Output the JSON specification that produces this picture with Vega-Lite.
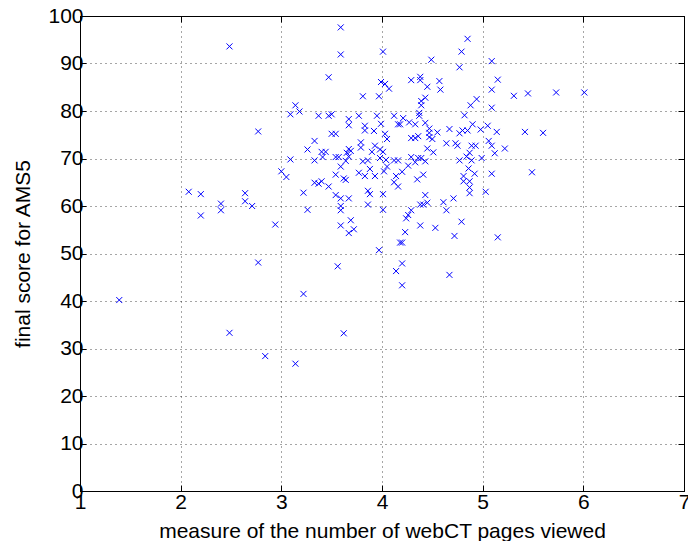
{
  "$schema": "https://vega.github.io/schema/vega-lite/v6.json",
  "width": 604,
  "height": 475,
  "autosize": {"type": "none"},
  "padding": {"left": 80, "top": 16, "right": 4, "bottom": 50},
  "background": "white",
  "config": {
    "view": {"stroke": "#000", "strokeWidth": 1},
    "font": "Liberation Sans",
    "axis": {
      "domainColor": "#000",
      "tickColor": "#000",
      "labelColor": "#000",
      "titleColor": "#000",
      "labelFont": "Liberation Sans",
      "titleFont": "Liberation Sans",
      "labelFontSize": 21,
      "titleFontSize": 21,
      "titleFontWeight": "normal",
      "gridColor": "#000",
      "gridDash": [1, 4],
      "gridOpacity": 0.7,
      "gridWidth": 1
    }
  },
  "data": {"values": [
    {"x":1.39,"y":40.2},{"x":2.485,"y":93.6},{"x":2.485,"y":33.3},{"x":2.08,"y":63.0},{"x":2.2,"y":62.5},
    {"x":2.2,"y":58.0},{"x":2.4,"y":60.5},{"x":2.4,"y":59.1},{"x":2.64,"y":62.7},{"x":2.64,"y":61.0},
    {"x":2.71,"y":60.0},{"x":2.77,"y":75.7},{"x":2.77,"y":48.1},{"x":2.84,"y":28.4},{"x":2.94,"y":56.1},
    {"x":3.0,"y":67.3},{"x":3.05,"y":66.1},{"x":3.09,"y":69.8},{"x":3.09,"y":79.3},{"x":3.14,"y":81.2},
    {"x":3.18,"y":79.9},{"x":3.14,"y":26.8},{"x":3.22,"y":41.5},{"x":3.22,"y":62.8},{"x":3.26,"y":71.9},
    {"x":3.26,"y":59.2},{"x":3.33,"y":73.7},{"x":3.33,"y":69.6},{"x":3.33,"y":64.9},{"x":3.37,"y":79.0},
    {"x":3.37,"y":64.7},{"x":3.4,"y":71.4},{"x":3.4,"y":65.2},{"x":3.44,"y":71.4},{"x":3.41,"y":70.3},
    {"x":3.47,"y":87.1},{"x":3.47,"y":79.0},{"x":3.47,"y":64.1},{"x":3.5,"y":79.3},{"x":3.5,"y":75.2},
    {"x":3.54,"y":75.2},{"x":3.54,"y":70.3},{"x":3.54,"y":66.6},{"x":3.54,"y":62.3},{"x":3.57,"y":70.3},
    {"x":3.56,"y":47.3},{"x":3.59,"y":97.6},{"x":3.59,"y":91.9},{"x":3.59,"y":68.3},{"x":3.59,"y":61.6},
    {"x":3.59,"y":60.0},{"x":3.59,"y":59.1},{"x":3.59,"y":55.9},{"x":3.62,"y":33.2},{"x":3.62,"y":65.8},
    {"x":3.64,"y":65.5},{"x":3.64,"y":69.5},{"x":3.67,"y":78.3},{"x":3.67,"y":77.0},{"x":3.67,"y":72.0},
    {"x":3.67,"y":70.4},{"x":3.67,"y":61.6},{"x":3.67,"y":54.3},{"x":3.69,"y":57.0},{"x":3.69,"y":71.6},
    {"x":3.65,"y":71.2},{"x":3.72,"y":55.1},{"x":3.77,"y":79.0},{"x":3.77,"y":67.0},{"x":3.79,"y":73.4},
    {"x":3.79,"y":72.3},{"x":3.81,"y":83.1},{"x":3.81,"y":69.4},{"x":3.83,"y":76.9},{"x":3.83,"y":75.9},
    {"x":3.83,"y":66.3},{"x":3.86,"y":63.2},{"x":3.86,"y":60.3},{"x":3.86,"y":69.6},{"x":3.88,"y":67.8},
    {"x":3.88,"y":62.5},{"x":3.9,"y":71.4},{"x":3.92,"y":75.8},{"x":3.93,"y":72.7},{"x":3.93,"y":66.3},
    {"x":3.95,"y":79.0},{"x":3.97,"y":83.1},{"x":3.97,"y":50.7},{"x":3.98,"y":71.9},{"x":3.98,"y":70.1},
    {"x":3.99,"y":86.1},{"x":3.99,"y":77.3},{"x":4.01,"y":92.5},{"x":4.01,"y":71.4},{"x":4.01,"y":62.5},
    {"x":4.01,"y":59.2},{"x":4.02,"y":67.3},{"x":4.03,"y":85.7},{"x":4.03,"y":75.2},{"x":4.04,"y":69.7},
    {"x":4.05,"y":68.3},{"x":4.05,"y":74.1},{"x":4.07,"y":84.7},{"x":4.12,"y":79.0},{"x":4.12,"y":69.6},
    {"x":4.12,"y":65.0},{"x":4.14,"y":66.3},{"x":4.16,"y":69.6},{"x":4.16,"y":64.1},{"x":4.14,"y":46.3},
    {"x":4.16,"y":77.2},{"x":4.18,"y":77.2},{"x":4.18,"y":52.3},{"x":4.2,"y":52.3},{"x":4.2,"y":47.9},
    {"x":4.2,"y":43.3},{"x":4.2,"y":67.2},{"x":4.21,"y":78.5},{"x":4.23,"y":54.5},{"x":4.24,"y":57.4},
    {"x":4.26,"y":58.1},{"x":4.26,"y":68.5},{"x":4.27,"y":77.6},{"x":4.29,"y":86.5},{"x":4.29,"y":74.3},
    {"x":4.29,"y":70.3},{"x":4.29,"y":59.1},{"x":4.33,"y":69.2},{"x":4.33,"y":77.2},{"x":4.33,"y":74.3},
    {"x":4.35,"y":65.6},{"x":4.36,"y":74.7},{"x":4.36,"y":70.1},{"x":4.37,"y":79.0},{"x":4.37,"y":79.6},
    {"x":4.38,"y":86.5},{"x":4.38,"y":87.2},{"x":4.38,"y":60.3},{"x":4.38,"y":55.9},{"x":4.39,"y":82.1},
    {"x":4.39,"y":81.2},{"x":4.39,"y":70.1},{"x":4.41,"y":66.6},{"x":4.41,"y":60.3},{"x":4.43,"y":82.8},
    {"x":4.43,"y":77.5},{"x":4.43,"y":69.4},{"x":4.43,"y":62.3},{"x":4.45,"y":85.1},{"x":4.45,"y":72.1},
    {"x":4.45,"y":60.7},{"x":4.47,"y":76.3},{"x":4.47,"y":75.4},{"x":4.47,"y":74.5},{"x":4.49,"y":90.8},
    {"x":4.5,"y":74.1},{"x":4.51,"y":71.3},{"x":4.53,"y":55.4},{"x":4.55,"y":75.5},{"x":4.57,"y":86.3},
    {"x":4.58,"y":84.5},{"x":4.61,"y":60.8},{"x":4.64,"y":73.2},{"x":4.64,"y":59.1},{"x":4.67,"y":76.2},
    {"x":4.67,"y":45.5},{"x":4.71,"y":61.6},{"x":4.72,"y":53.7},{"x":4.73,"y":73.2},{"x":4.75,"y":72.7},
    {"x":4.77,"y":89.2},{"x":4.77,"y":75.3},{"x":4.77,"y":69.6},{"x":4.79,"y":92.5},{"x":4.79,"y":56.7},
    {"x":4.8,"y":75.9},{"x":4.81,"y":66.3},{"x":4.81,"y":65.2},{"x":4.82,"y":79.1},{"x":4.84,"y":70.4},
    {"x":4.85,"y":95.2},{"x":4.85,"y":75.9},{"x":4.86,"y":67.9},{"x":4.87,"y":71.2},{"x":4.87,"y":65.2},
    {"x":4.87,"y":63.9},{"x":4.87,"y":62.7},{"x":4.88,"y":81.2},{"x":4.89,"y":69.6},{"x":4.89,"y":72.7},
    {"x":4.9,"y":77.2},{"x":4.93,"y":72.7},{"x":4.92,"y":66.8},{"x":4.94,"y":82.5},{"x":4.98,"y":76.1},
    {"x":4.99,"y":70.1},{"x":5.03,"y":63.0},{"x":5.05,"y":76.9},{"x":5.06,"y":73.7},{"x":5.09,"y":84.5},
    {"x":5.09,"y":90.5},{"x":5.09,"y":80.7},{"x":5.09,"y":72.7},{"x":5.09,"y":66.8},{"x":5.12,"y":71.1},
    {"x":5.14,"y":75.6},{"x":5.15,"y":86.6},{"x":5.15,"y":53.4},{"x":5.22,"y":72.1},{"x":5.31,"y":83.2},
    {"x":5.42,"y":75.6},{"x":5.45,"y":83.7},{"x":5.49,"y":67.1},{"x":5.6,"y":75.4},{"x":5.73,"y":83.9},
    {"x":6.01,"y":83.9}
  ]},
  "layer": [
    {
      "mark": {"type": "point", "shape": "M-1,-1L1,1M-1,1L1,-1", "filled": false, "color": "#0000ff", "strokeWidth": 1, "size": 36, "opacity": 1},
      "encoding": {
        "x": {"field": "x", "type": "quantitative",
              "scale": {"domain": [1, 7], "nice": false, "zero": false},
              "axis": {"orient": "bottom", "values": [1,2,3,4,5,6,7], "title": "measure of the number of webCT pages viewed",
                       "tickSize": -6, "labelPadding": 6, "labelFlush": false, "labelOverlap": false,
                       "titleBaseline": "alphabetic", "titleY": 46, "titlePadding": 0}},
        "y": {"field": "y", "type": "quantitative",
              "scale": {"domain": [0, 100], "nice": false},
              "axis": {"orient": "left", "values": [0,10,20,30,40,50,60,70,80,90,100], "title": "final score for AMS5",
                       "tickSize": -6, "labelPadding": 3, "labelFlush": false, "labelOverlap": false,
                       "titleX": -57, "titleBaseline": "middle"}}
      }
    },
    {
      "mark": {"type": "point", "opacity": 0},
      "encoding": {
        "x": {"field": "x", "type": "quantitative",
              "axis": {"orient": "top", "values": [1,2,3,4,5,6,7], "labels": false, "title": null, "grid": false, "tickSize": -6}},
        "y": {"field": "y", "type": "quantitative",
              "axis": {"orient": "right", "values": [0,10,20,30,40,50,60,70,80,90,100], "labels": false, "title": null, "grid": false, "tickSize": -6}}
      }
    }
  ],
  "resolve": {"axis": {"x": "independent", "y": "independent"}}
}
